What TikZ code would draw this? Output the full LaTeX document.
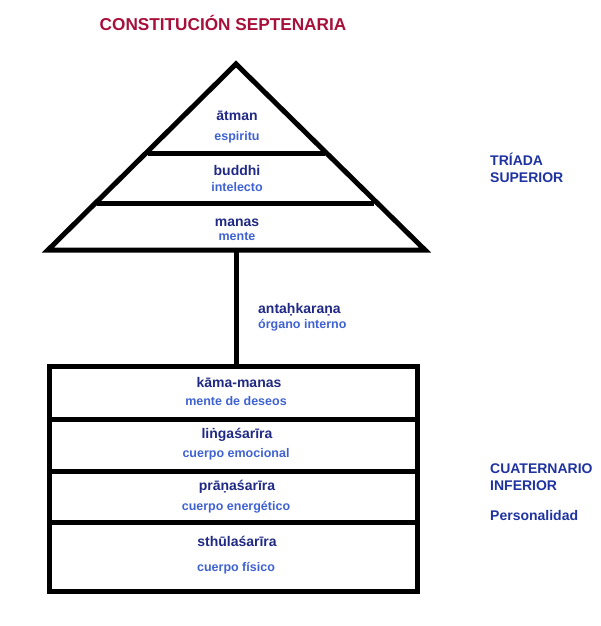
\documentclass[tikz,border=0pt]{standalone}
\usepackage{fontspec}
\setmainfont{Liberation Sans}
\definecolor{titlered}{HTML}{A8103A}
\definecolor{navy}{HTML}{202A85}
\definecolor{lightblue}{HTML}{3F62D2}
\definecolor{sidenavy}{HTML}{1F33A0}
\begin{document}
\begin{tikzpicture}[x=1pt,y=-1pt,
  skt/.style={font=\fontsize{14}{16}\selectfont\bfseries,text=navy,anchor=base,inner sep=0pt},
  esp/.style={font=\fontsize{12.5}{14}\selectfont\bfseries,text=lightblue,anchor=base,inner sep=0pt},
  side/.style={font=\fontsize{14}{16}\selectfont\bfseries,text=sidenavy,anchor=base west,inner sep=0pt},
  thick line/.style={line width=5pt,black}]
\useasboundingbox (0,0) rectangle (600,626);
% title
\node[font=\fontsize{17.2}{19}\selectfont\bfseries,text=titlered,anchor=base,inner sep=0pt] (title) at (223,31) {CONSTITUCIÓN SEPTENARIA};
% triangle
\coordinate (apex) at (236,64);
\coordinate (bl) at (48,250);
\coordinate (br) at (425,250);
\coordinate (tribase) at (236,250);
\draw[thick line,line join=miter] (apex) -- (br) -- (bl) -- cycle;
\draw[thick line] (148,153) -- (325,153);
\draw[thick line] (97,203) -- (374,203);
% box
\coordinate (boxtop) at (236,366);
\draw[thick line] (49,366) rectangle (417,591);
\draw[thick line] (49,419) -- (417,419);
\draw[thick line] (49,471) -- (417,471);
\draw[thick line] (49,522) -- (417,522);
% connector
\draw[thick line] (tribase) -- (boxtop);
% triangle texts
\node[skt] (atman) at (237,120) {ātman};
\node[esp] (espiritu) at (237,140) {espiritu};
\node[skt] (buddhi) at (237,175) {buddhi};
\node[esp] (intelecto) at (237,191) {intelecto};
\node[skt] (manas) at (237,226) {manas};
\node[esp] (mente) at (237,240) {mente};
% antahkarana
\node[skt,anchor=base west] (antah) at (258,313) {antaḥkaraṇa};
\node[esp,anchor=base west] (organo) at (258,328) {órgano interno};
% box texts
\node[skt] (kama) at (239,387) {kāma-manas};
\node[esp] (deseos) at (236,405) {mente de deseos};
\node[skt] (linga) at (237,438) {liṅgaśarīra};
\node[esp] (emocional) at (236,457) {cuerpo emocional};
\node[skt] (prana) at (237,490) {prāṇaśarīra};
\node[esp] (energetico) at (236,510) {cuerpo energético};
\node[skt] (sthula) at (237,546) {sthūlaśarīra};
\node[esp] (fisico) at (236,571) {cuerpo físico};
% side labels
\node[side] (triada) at (490,165) {TRÍADA};
\node[side] (superior) at (490,182) {SUPERIOR};
\node[side] (cuaternario) at (490,473) {CUATERNARIO};
\node[side] (inferior) at (490,490) {INFERIOR};
\node[side] (personalidad) at (490,520) {Personalidad};
\end{tikzpicture}
\end{document}
